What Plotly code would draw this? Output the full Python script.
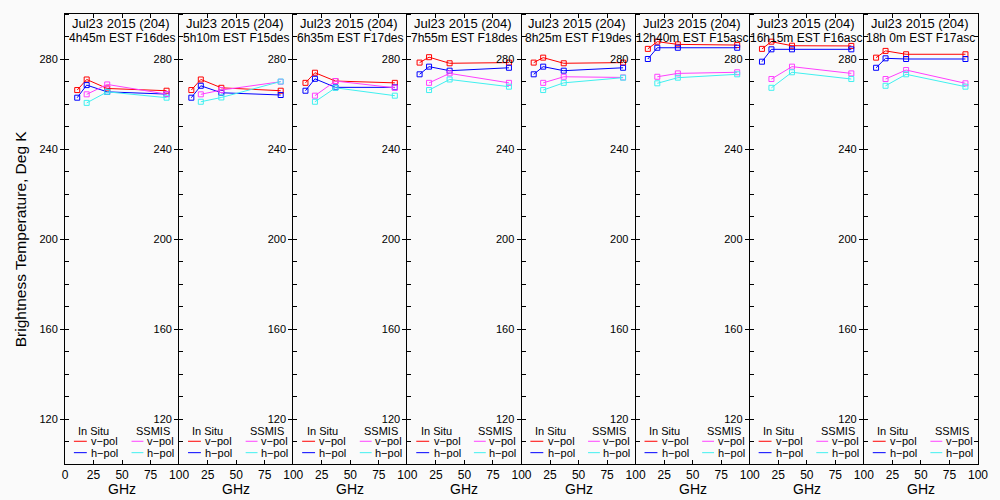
import plotly.graph_objects as go

# ---------------- data ----------------
insitu_freq = [10.7, 19, 37, 89]
ssmis_freq = [19, 37, 89]

title_line1 = ["Jul23 2015 (204)"] * 8
title_line2 = ["4h45m EST F16des", "5h10m EST F15des", "6h35m EST F17des",
               "7h55m EST F18des", "8h25m EST F19des", "12h40m EST F15asc",
               "16h15m EST F16asc", "18h 0m EST F17asc"]

insitu_v = [
    [266.2, 270.9, 266.9, 265.9],
    [266.2, 270.9, 267.2, 265.9],
    [269.4, 273.9, 270.2, 269.4],
    [278.4, 280.8, 278.1, 278.4],
    [278.4, 280.6, 278.1, 278.4],
    [284.5, 287.7, 286.5, 286.2],
    [284.5, 287.7, 285.9, 285.8],
    [280.6, 283.6, 282.1, 282.1],
]
insitu_h = [
    [262.8, 268.4, 265.4, 264.4],
    [262.8, 268.1, 265.0, 264.0],
    [265.9, 271.2, 267.4, 267.4],
    [273.2, 276.6, 274.8, 276.1],
    [273.2, 276.6, 274.8, 276.1],
    [280.0, 285.0, 285.0, 285.0],
    [278.8, 284.3, 284.3, 284.3],
    [276.1, 280.3, 280.0, 280.0],
]
ssmis_v = [
    [264.3, 268.7, 264.4],
    [264.3, 266.2, 269.9],
    [263.7, 270.2, 267.2],
    [269.4, 273.6, 269.4],
    [269.4, 272.1, 271.8],
    [272.1, 273.6, 274.1],
    [271.1, 276.6, 273.6],
    [271.1, 275.1, 269.2],
]
ssmis_h = [
    [260.5, 265.4, 262.8],
    [261.0, 262.9, 270.0],
    [261.0, 267.2, 263.7],
    [266.2, 270.9, 267.7],
    [266.2, 269.4, 271.7],
    [269.2, 271.7, 273.2],
    [267.2, 274.1, 271.1],
    [268.1, 273.2, 267.7],
]

x_tickvals = [0, 25, 50, 75, 100]
y_major = [120, 160, 200, 240, 280]
y_range = [100, 300]
x_range = [0, 100]

# ---------------- styles ----------------
RED = "#ff0000"
BLUE = "#0000ff"
MAG = "#ff40ff"
CYAN = "#40f0f0"
FONT = "Liberation Sans"
BG = "#fafafa"

N = 8
fig = go.Figure()

series = [
    (insitu_v, insitu_freq, RED),
    (insitu_h, insitu_freq, BLUE),
    (ssmis_v, ssmis_freq, MAG),
    (ssmis_h, ssmis_freq, CYAN),
]

layout_axes = {}
annotations = []
shapes = []

for k in range(N):
    sx = "" if k == 0 else str(k + 1)
    for vals, freqs, col in series:
        fig.add_trace(go.Scatter(
            x=freqs, y=vals[k], mode="lines+markers",
            line=dict(color=col, width=1),
            marker=dict(symbol="square-open", size=5, color=col, line=dict(width=1, color=col)),
            xaxis="x" + sx, yaxis="y" + sx, showlegend=False, hoverinfo="skip",
        ))
    ticktext = [str(v) for v in x_tickvals]
    if k > 0:
        ticktext[0] = ""
    layout_axes["xaxis" + sx] = dict(
        domain=[k / N, (k + 1) / N], range=x_range, anchor="y" + sx,
        tickmode="array", tickvals=x_tickvals, ticktext=ticktext,
        ticks="inside", ticklen=4, tickcolor="black", mirror="ticks",
        showline=True, linecolor="black", linewidth=1,
        showgrid=False, zeroline=False,
        tickfont=dict(family=FONT, size=12, color="black"),
    )
    layout_axes["yaxis" + sx] = dict(
        domain=[0, 1], range=y_range, anchor="x" + sx,
        tickmode="array", tickvals=y_major,
        ticks="outside", ticklen=4, tickcolor="black",
        minor=dict(ticks="inside", ticklen=4, tickcolor="black",
                   tickmode="linear", tick0=110, dtick=10, showgrid=False),
        mirror=False, showline=True, linecolor="black", linewidth=1,
        showgrid=False, zeroline=False,
        tickfont=dict(family=FONT, size=11, color="black"),
    )
    dom = "x" + sx + " domain"
    annotations.append(dict(text=title_line1[k], xref=dom, yref="paper", x=0.49, y=0.978,
                            xanchor="center", yanchor="middle", showarrow=False,
                            font=dict(family=FONT, size=13, color="black")))
    annotations.append(dict(text=title_line2[k], xref=dom, yref="paper", x=0.5, y=0.946,
                            xanchor="center", yanchor="middle", showarrow=False,
                            font=dict(family=FONT, size=12, color="black")))
    # legend block
    annotations.append(dict(text="In Situ", xref=dom, yref="paper", x=0.252, y=0.073,
                            xanchor="center", yanchor="middle", showarrow=False,
                            font=dict(family=FONT, size=11, color="black")))
    annotations.append(dict(text="SSMIS", xref=dom, yref="paper", x=0.77, y=0.073,
                            xanchor="center", yanchor="middle", showarrow=False,
                            font=dict(family=FONT, size=11, color="black")))
    for ly, c1, c2, lab in [(0.0505, RED, MAG, "v\u2212pol"), (0.0252, BLUE, CYAN, "h\u2212pol")]:
        shapes.append(dict(type="line", xref=dom, yref="paper", x0=0.078, x1=0.191, y0=ly, y1=ly,
                           line=dict(color=c1, width=1)))
        shapes.append(dict(type="line", xref=dom, yref="paper", x0=0.583, x1=0.687, y0=ly, y1=ly,
                           line=dict(color=c2, width=1)))
        annotations.append(dict(text=lab, xref=dom, yref="paper", x=0.212, y=ly,
                                xanchor="left", yanchor="middle", showarrow=False,
                                font=dict(family=FONT, size=11, color="black")))
        annotations.append(dict(text=lab, xref=dom, yref="paper", x=0.70, y=ly,
                                xanchor="left", yanchor="middle", showarrow=False,
                                font=dict(family=FONT, size=11, color="black")))
    annotations.append(dict(text="GHz", xref=dom, yref="paper", x=0.5, y=-0.055,
                            xanchor="center", yanchor="middle", showarrow=False,
                            font=dict(family=FONT, size=14, color="black")))

# right-hand border with inside ticks for last panel
fig.add_trace(go.Scatter(x=[None], y=[None], xaxis="x8", yaxis="y9",
                         showlegend=False, hoverinfo="skip"))
layout_axes["yaxis9"] = dict(
    overlaying="y8", anchor="x8", side="right", range=y_range,
    tickmode="linear", tick0=110, dtick=10, ticks="inside", ticklen=4, tickcolor="black",
    showticklabels=False, showgrid=False, zeroline=False,
    showline=True, linecolor="black", linewidth=1,
)

annotations.append(dict(text="Brightness Temperature, Deg K", xref="paper", yref="paper",
                        x=-0.049, y=0.5, textangle=-90, xanchor="center", yanchor="middle",
                        showarrow=False, font=dict(family=FONT, size=15.5, color="black")))

fig.update_layout(
    width=1000, height=500,
    margin=dict(l=65, r=15, t=14, b=36),
    paper_bgcolor=BG, plot_bgcolor=BG,
    annotations=annotations, shapes=shapes,
    font=dict(family=FONT, color="black"),
    **layout_axes,
)

fig.write_html(
    "out.html",
    config={"displayModeBar": False},
    post_script="document.body.style.margin='0';document.body.style.overflow='hidden';"
                "document.body.style.background='" + BG + "';",
)
